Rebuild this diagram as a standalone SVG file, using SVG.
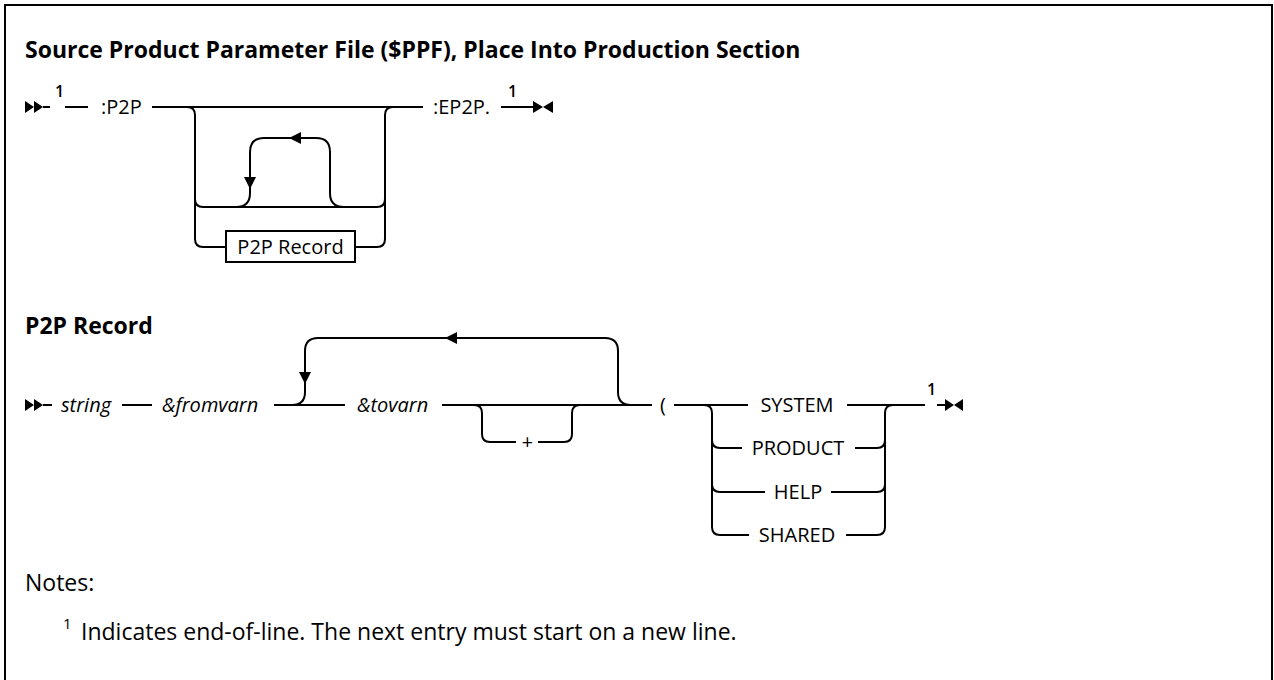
<svg xmlns="http://www.w3.org/2000/svg" width="1274" height="680" viewBox="0 0 1274 680">
<style>
.ln{fill:none;stroke:#000;stroke-width:2}
.ah{fill:#000;stroke:none}
.t{font-family:"Open Sans","Noto Sans",sans-serif;font-size:20px;fill:#000}
.i{font-style:italic}
.h{font-family:"Open Sans","Noto Sans",sans-serif;font-size:23px;font-weight:bold;fill:#000}
.n{font-family:"Open Sans","Noto Sans",sans-serif;font-size:23px;fill:#000}
.sup{font-family:"Open Sans","Noto Sans",sans-serif;font-size:16px;font-weight:600;fill:#000}
.sn{font-family:"Open Sans","Noto Sans",sans-serif;font-size:15px;fill:#000}
</style>
<rect x="0" y="0" width="1274" height="680" fill="#fff"/>
<rect id="frame" x="5" y="5" width="1267" height="700" fill="none" stroke="#000" stroke-width="2"/>
<text id="title" class="h" x="25" y="58">Source Product Parameter File ($PPF), Place Into Production Section</text>
<text id="heading2" class="h" x="25" y="334">P2P Record</text>

<g id="connectors">
  <!-- row 1 -->
  <polygon class="ah" points="25,101 34,107 25,113"/>
  <polygon class="ah" points="34,101 43,107 34,113"/>
  <path class="ln" d="M43,107 H50 M65,107 H88 M152,107 H423"/>
  <path class="ln" d="M187,107 Q195,107 195,115 V239 Q195,247 203,247 H226"/>
  <path class="ln" d="M195,199 Q195,207 203,207 H377 Q385,207 385,199"/>
  <path class="ln" d="M355,247 H377 Q385,247 385,239 V115 Q385,107 393,107"/>
  <path class="ln" d="M236,207 Q250,207 250,193 V152 Q250,138 264,138 H316 Q330,138 330,152 V193 Q330,207 344,207"/>
  <polygon class="ah" points="289,138 301,132 301,144"/>
  <polygon class="ah" points="250,189 244,177 256,177"/>
  <path class="ln" d="M501,107 H534"/>
  <polygon class="ah" points="533,101 543,107 533,113"/>
  <polygon class="ah" points="553,101 543,107 553,113"/>
  <!-- row 2 -->
  <polygon class="ah" points="25,399 34,405 25,411"/>
  <polygon class="ah" points="34,399 43,405 34,411"/>
  <path class="ln" d="M43,405 H52 M122,405 H152 M274,405 H345 M442,405 H652 M674,405 H748 M847,405 H925 M937,405 H946"/>
  <path class="ln" d="M292,405 Q305,405 305,392 V351 Q305,338 318,338 H605 Q618,338 618,351 V392 Q618,405 631,405"/>
  <polygon class="ah" points="445,338 457,332 457,344"/>
  <polygon class="ah" points="305,384 299,372 311,372"/>
  <path class="ln" d="M474,405 Q482,405 482,413 V434 Q482,442 490,442 H516 M538,442 H564 Q572,442 572,434 V413 Q572,405 580,405"/>
  <path class="ln" d="M704,405 Q712,405 712,413 V527 Q712,535 720,535 H749"/>
  <path class="ln" d="M712,440 Q712,448 720,448 H742 M712,484 Q712,492 720,492 H765 M893,405 Q885,405 885,413 V527 Q885,535 877,535 H846 M885,440 Q885,448 877,448 H855 M885,484 Q885,492 877,492 H831"/>
  <polygon class="ah" points="945,399 954,405 945,411"/>
  <polygon class="ah" points="963,399 954,405 963,411"/>
</g>

<g id="n-p2p"><text class="sup" x="55" y="97">1</text><text class="t" x="101" y="114">:P2P</text></g>
<g id="n-box"><rect x="226" y="231" width="129" height="31" fill="#fff" stroke="#000" stroke-width="2"/><text class="t" x="290.5" y="254" text-anchor="middle">P2P Record</text></g>
<g id="n-ep2p"><text class="t" x="433" y="114">:EP2P.</text><text class="sup" x="508" y="97">1</text></g>
<g id="n-string"><text class="t i" x="61" y="412">string</text></g>
<g id="n-from"><text class="t i" x="162" y="412">&amp;fromvarn</text></g>
<g id="n-to"><text class="t i" x="357" y="412">&amp;tovarn</text></g>
<g id="n-plus"><text class="t i" x="527" y="449" text-anchor="middle">+</text></g>
<g id="n-paren"><text class="t" x="660" y="412">(</text></g>
<g id="n-system"><text class="t" x="797" y="412" text-anchor="middle">SYSTEM</text></g>
<g id="n-product"><text class="t" x="798" y="455" text-anchor="middle">PRODUCT</text></g>
<g id="n-help"><text class="t" x="798" y="499" text-anchor="middle">HELP</text></g>
<g id="n-shared"><text class="t" x="797" y="542" text-anchor="middle">SHARED</text></g>
<g id="n-end1"><text class="sup" x="927" y="395">1</text></g>

<g id="notes">
<text class="n" x="25" y="591">Notes:</text>
<text class="sn" x="63" y="629">1</text>
<text class="n" x="81" y="640">Indicates end-of-line. The next entry must start on a new line.</text>
</g>
</svg>
